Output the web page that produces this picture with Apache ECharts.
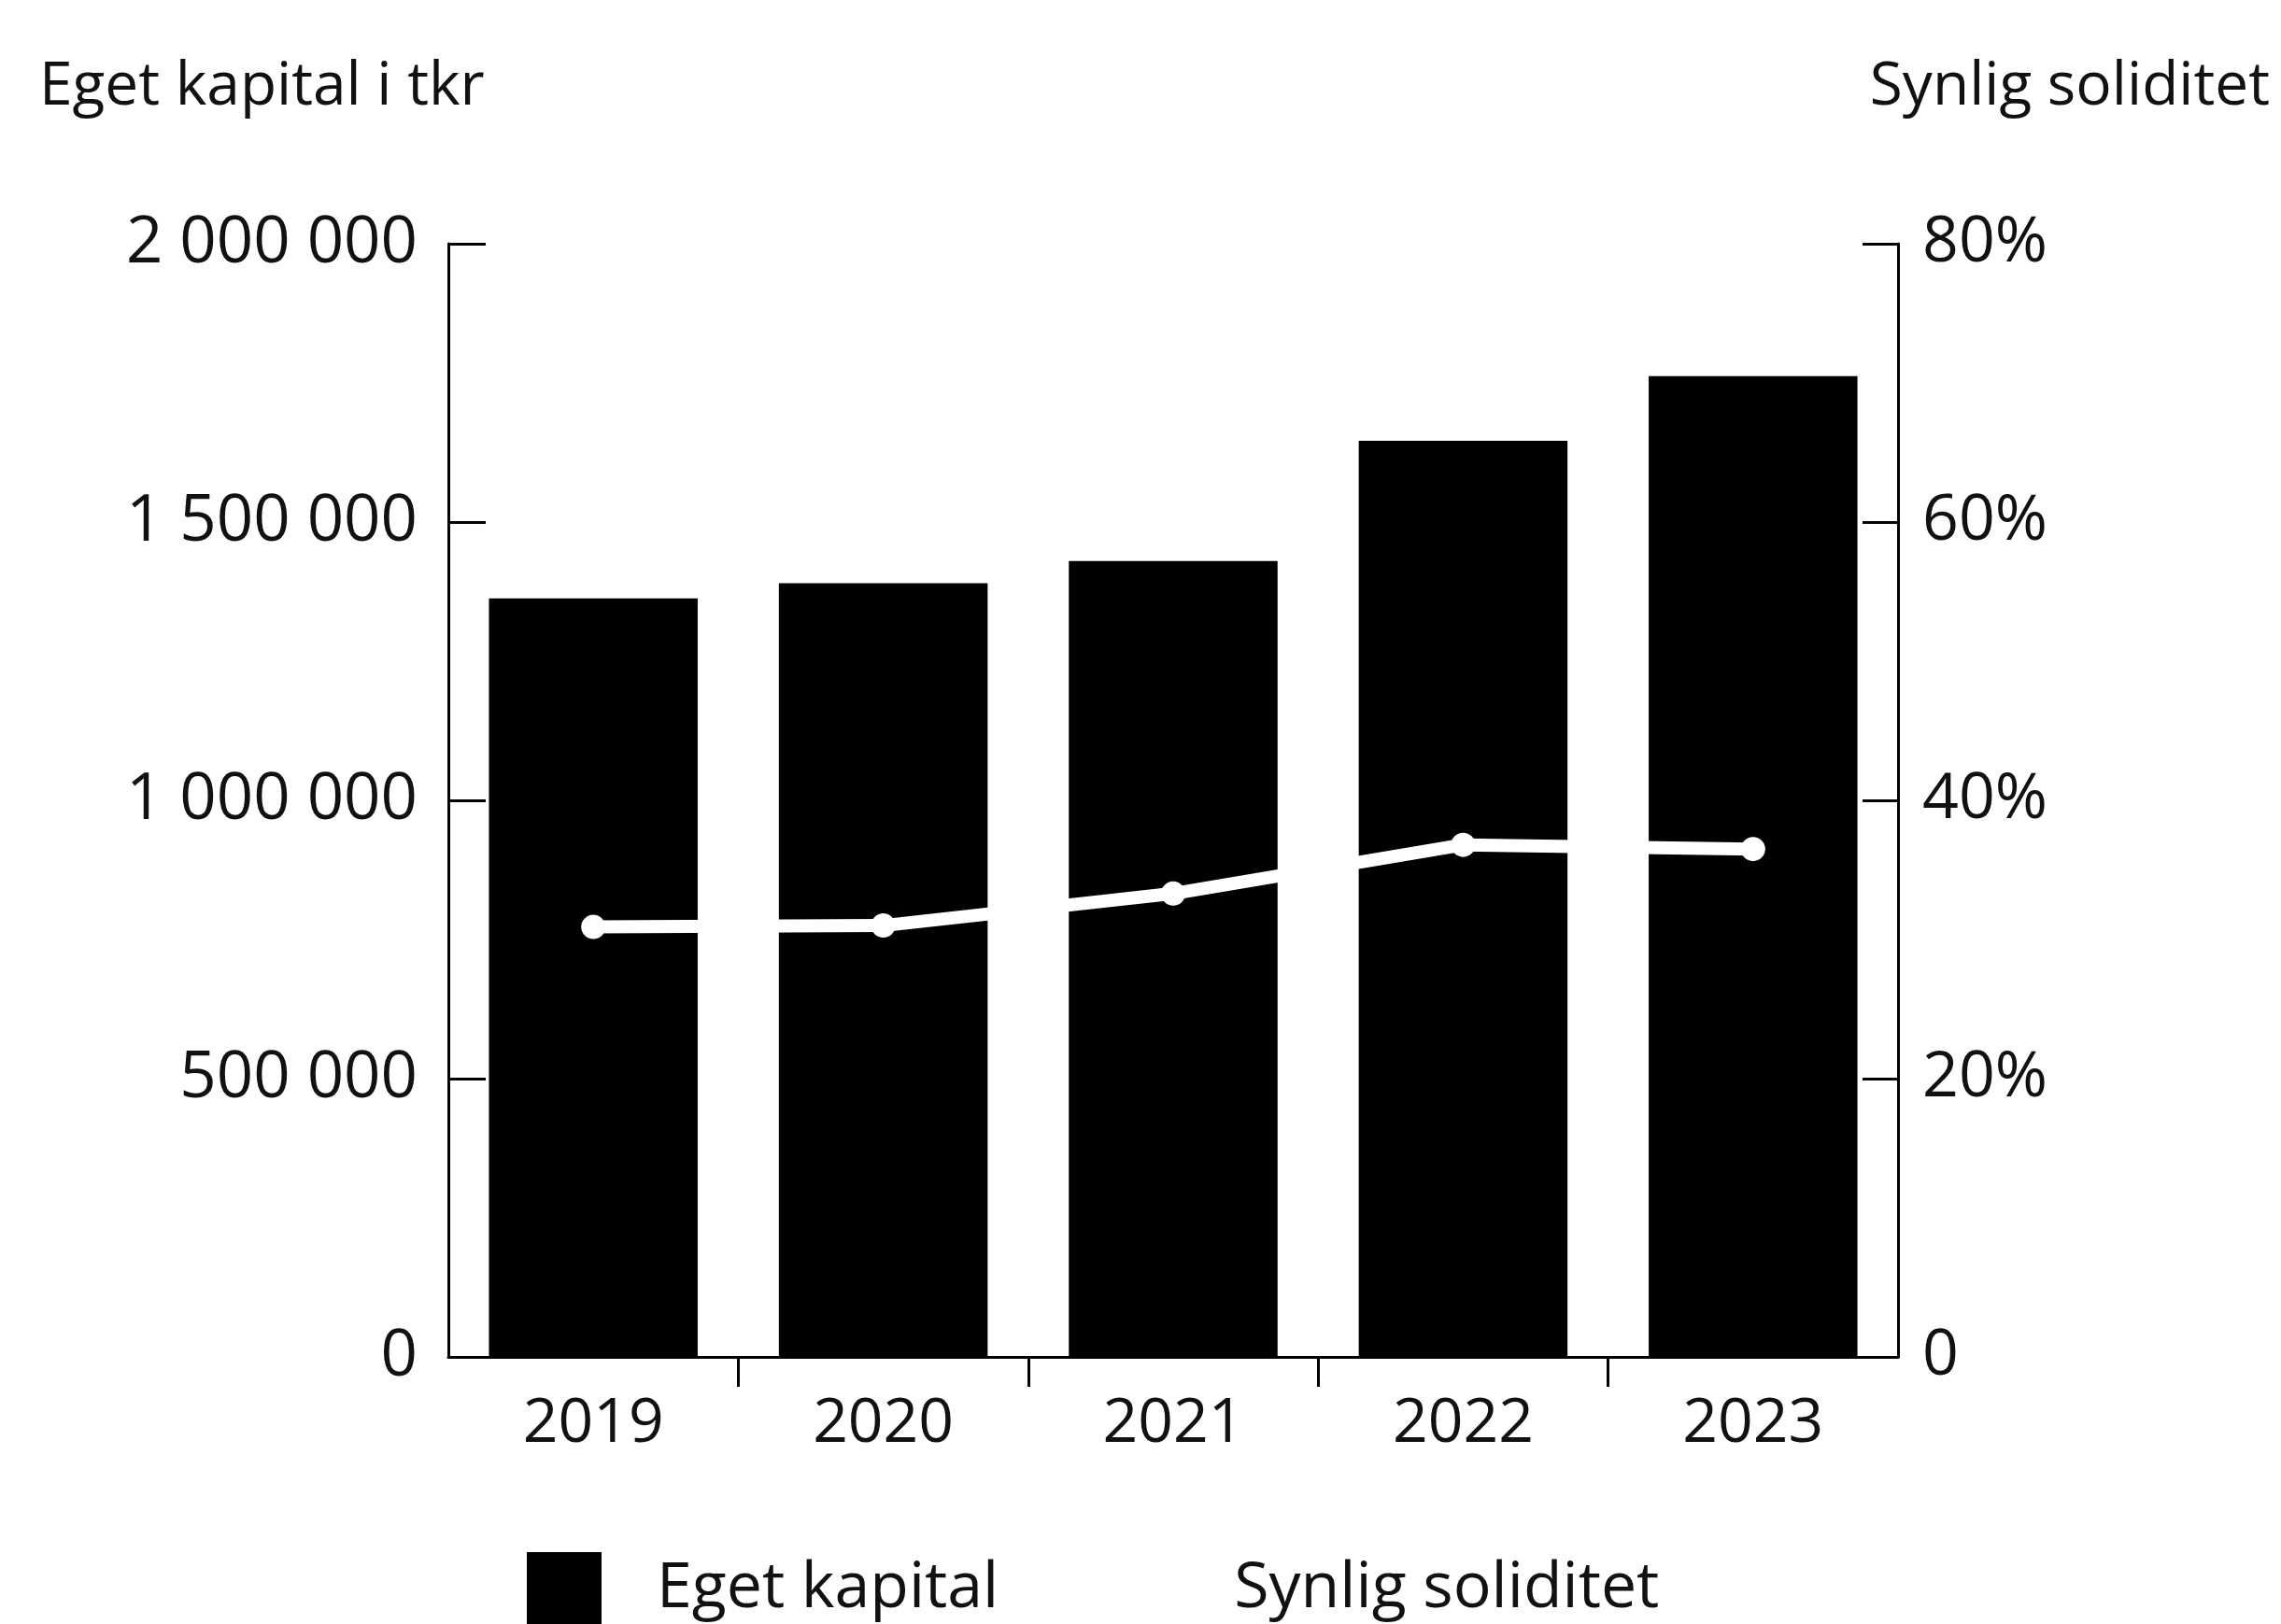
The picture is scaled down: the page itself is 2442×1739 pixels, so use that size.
<!DOCTYPE html>
<html>
<head>
<meta charset="utf-8">
<script src="https://cdn.jsdelivr.net/npm/echarts@6/dist/echarts.min.js"></script>
<style>
  html, body { margin: 0; padding: 0; background: #ffffff; }
  #chart { width: 2442px; height: 1739px; }
</style>
</head>
<body>
<div id="chart"></div>
<script>
// Eget kapital (tkr) och synlig soliditet (%) per år
const years = ['2019', '2020', '2021', '2022', '2023'];
const egetKapital = [1363000, 1390000, 1430000, 1646000, 1762000];
const synligSoliditet = [30.9, 31.0, 33.3, 36.8, 36.5];
const kapitalTicks = [0, 500000, 1000000, 1500000, 2000000];
const soliditetTicks = [0, 20, 40, 60, 80];

const FONT = '"Open Sans", "Noto Sans", sans-serif';
const INK = '#111111';
const axisStroke = { color: '#000000', width: 3 };

// thousands grouped with a space, e.g. "1 500 000"
function spaced(v) {
  return String(v).replace(/\B(?=(\d{3})+(?!\d))/g, ' ');
}

const chart = echarts.init(document.getElementById('chart'), null, { renderer: 'canvas' });

chart.setOption({
  animation: false,
  backgroundColor: '#ffffff',
  textStyle: { fontFamily: FONT, color: INK },
  title: [
    {
      text: 'Eget kapital i tkr', left: 42, top: 62, padding: 0,
      textStyle: { fontFamily: FONT, fontSize: 64, fontWeight: 'normal', color: INK }
    },
    {
      text: 'Synlig soliditet', right: 12, top: 62, padding: 0,
      textStyle: { fontFamily: FONT, fontSize: 64, fontWeight: 'normal', color: INK }
    }
  ],
  legend: {
    left: 564, top: 1662, padding: 0,
    itemWidth: 80, itemHeight: 80, itemGap: 112,
    textStyle: { fontFamily: FONT, fontSize: 68, color: INK, padding: [0, 0, 0, 54] },
    data: [
      { name: 'Eget kapital', icon: 'rect' },
      { name: 'Synlig soliditet' }
    ]
  },
  grid: { left: 480, right: 410, top: 261, bottom: 286, containLabel: false, outerBoundsMode: 'none' },
  xAxis: [
    {
      type: 'category', data: years, position: 'bottom', boundaryGap: true,
      axisLine: { show: true, lineStyle: axisStroke },
      axisTick: { show: false },
      axisLabel: { fontFamily: FONT, fontSize: 66, color: INK, margin: 39 },
      splitLine: { show: false }
    },
    {
      // separators between the year bands, without marks at the corners
      type: 'value', position: 'bottom', min: 0, max: years.length, interval: 1,
      axisLine: { show: false },
      axisLabel: { show: false },
      splitLine: { show: false },
      axisTick: {
        show: true, inside: false, length: 32, lineStyle: axisStroke,
        customValues: years.slice(1).map((_, i) => i + 1)
      }
    }
  ],
  yAxis: [
    {
      type: 'value', position: 'left',
      min: kapitalTicks[0], max: kapitalTicks[kapitalTicks.length - 1],
      interval: kapitalTicks[1] - kapitalTicks[0],
      axisLine: { show: true, lineStyle: axisStroke },
      axisTick: { show: true, inside: true, length: 40, lineStyle: axisStroke },
      splitLine: { show: false },
      axisLabel: { fontFamily: FONT, fontSize: 69, color: INK, margin: 33, formatter: v => spaced(v) }
    },
    {
      type: 'value', position: 'right',
      min: soliditetTicks[0], max: soliditetTicks[soliditetTicks.length - 1],
      interval: soliditetTicks[1] - soliditetTicks[0],
      axisLine: { show: true, lineStyle: axisStroke },
      axisTick: { show: true, inside: true, length: 38, lineStyle: axisStroke },
      splitLine: { show: false },
      axisLabel: { fontFamily: FONT, fontSize: 68, color: INK, margin: 26, formatter: v => (v === 0 ? '0' : v + '%') }
    }
  ],
  series: [
    {
      name: 'Eget kapital', type: 'bar', xAxisIndex: 0, yAxisIndex: 0,
      data: egetKapital, barCategoryGap: '28%',
      itemStyle: { color: '#000000' }
    },
    {
      name: 'Synlig soliditet', type: 'line', xAxisIndex: 0, yAxisIndex: 1,
      data: synligSoliditet, z: 5,
      symbol: 'circle', symbolSize: 26,
      lineStyle: { color: '#ffffff', width: 14 },
      itemStyle: { color: '#ffffff', borderWidth: 0 }
    }
  ]
});
</script>
</body>
</html>
